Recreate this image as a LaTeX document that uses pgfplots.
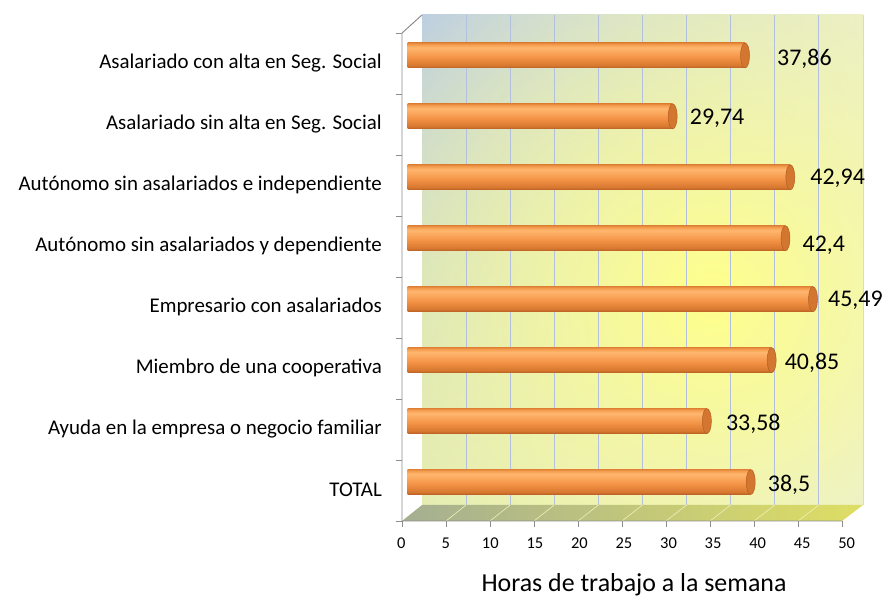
\documentclass[border=0pt]{standalone}
\usepackage{fontspec}
\setmainfont{Carlito}
\usepackage{pgfplots}
\usepackage{pgfplotstable}
\pgfplotsset{compat=1.18}
\usetikzlibrary{fadings,shadings}

\definecolor{wallUL}{RGB}{180,200,238}
\definecolor{wallUR}{RGB}{228,234,220}
\definecolor{wallLL}{RGB}{222,232,190}
\definecolor{wallLR}{RGB}{225,232,242}
\definecolor{wallY}{RGB}{255,255,140}
\definecolor{floorL}{RGB}{165,175,145}
\definecolor{floorR}{RGB}{222,222,100}
\definecolor{gridc}{RGB}{178,192,222}
\definecolor{axisc}{RGB}{140,140,140}
\definecolor{capc}{RGB}{210,118,48}
\definecolor{capedge}{RGB}{178,95,35}

% cylinder look for one bar (bottom at 25bp, top at 75bp)
\pgfdeclareverticalshading{cyl}{100bp}{
  color(0bp)=(rgb,255:red,185;green,95;blue,35);
  color(25bp)=(rgb,255:red,185;green,95;blue,35);
  color(30bp)=(rgb,255:red,215;green,120;blue,48);
  color(45bp)=(rgb,255:red,242;green,145;blue,68);
  color(60bp)=(rgb,255:red,252;green,172;blue,98);
  color(66bp)=(rgb,255:red,255;green,182;blue,110);
  color(72bp)=(rgb,255:red,245;green,158;blue,80);
  color(75bp)=(rgb,255:red,228;green,136;blue,60);
  color(100bp)=(rgb,255:red,228;green,136;blue,60)}

\tikzfading[name=yfade, inner color=transparent!0, outer color=transparent!100]

% k = category index (0 = TOTAL), dx/dy = label offset in bp
\pgfplotstableread{
k val dx dy lab
0 38.5  17 -3   38,5
1 33.58 19 -3   33,58
2 40.85 13 -3   40,85
3 45.49 15 -1   45,49
4 42.4  17 -7   42,4
5 42.94 20 -1   42,94
6 29.74 17 -2   29,74
7 37.86 32 -3.5 37,86
}\horas

\begin{document}
\begin{tikzpicture}
\begin{scope}[x=1bp,y=1bp]
% back wall
\begin{scope}
\clip (422,92) rectangle (863,582);
\shade[upper left=wallUL, upper right=wallUR, lower left=wallLL, lower right=wallLR]
  (422,92) rectangle (863,582);
\fill[wallY, path fading=yfade] (710,300) ellipse [x radius=460, y radius=460];
\end{scope}
\foreach \i in {1,...,9}
  \draw[gridc, line width=0.9] ({422+44.1*\i},92) -- ({422+44.1*\i},582);
\draw[gridc!60, line width=0.9] (863,92) -- (863,582);

% floor
\shade[left color=floorL, right color=floorR] (402,76) -- (842,76) -- (863,92) -- (422,92) -- cycle;
\foreach \i in {1,...,9}
  \draw[white!55!floorR, line width=0.6] ({402+44*\i},76) -- ({422+44.1*\i},92);

% axis lines and ticks
\draw[axisc, line width=1] (422,582) -- (402,564) -- (402,76) -- (842,76);
\foreach \i in {0,...,10}
  \draw[axisc, line width=0.8] ({402+44*\i},76) -- ({402+44*\i},70);
\foreach \i in {0,...,8}
  \draw[axisc, line width=0.8] (396,{76+61*\i}) -- (402,{76+61*\i});
\end{scope}

\begin{axis}[
  at={(407.7bp,84.5bp)}, anchor=south west,
  scale only axis, width=445.5bp, height=487.5bp,
  xmin=0, xmax=50, ymin=-0.5, ymax=7.5,
  clip=false,
  axis line style={draw=none},
  major tick length=0pt,
  xtick={0,5,...,50},
  ytick={0,...,7},
  yticklabels={TOTAL,
    Ayuda en la empresa o negocio familiar,
    Miembro de una cooperativa,
    Empresario con asalariados,
    Autónomo sin asalariados y dependiente,
    Autónomo sin asalariados e independiente,
    Asalariado sin alta en Seg. Social,
    Asalariado con alta en Seg. Social},
  /pgf/number format/assume math mode=true,
  xticklabel style={font=\fontsize{16.5}{18}\selectfont, anchor=center, xshift=-6.5bp, yshift=-30.5bp},
  yticklabel style={font=\fontsize{21}{24}\selectfont, anchor=east, inner sep=0pt, xshift=-25.7bp, yshift=-7.5bp},
  xlabel={Horas de trabajo a la semana},
  xlabel style={font=\fontsize{26}{30}\selectfont, at={(axis description cs:0.508,-0.163)}, anchor=base},
]
% one plot per bar, so that each bar gets its own shading
\pgfplotsinvokeforeach{0,...,7}{
\addplot[xbar, bar width=25bp, bar shift=0pt, draw=none, shading=cyl,
  restrict y to domain=#1:#1, forget plot]
  table[x=val, y=k] {\horas};
}
\addplot[only marks, mark=*, mark size=12.5bp,
  mark options={xscale=0.36, fill=capc, draw=capedge, line width=0.5}]
  table[x=val, y=k] {\horas};
\addplot[draw=none, mark=none, nodes near coords, point meta=explicit symbolic,
  visualization depends on={\thisrow{dx} \as \dx},
  visualization depends on={\thisrow{dy} \as \dy},
  every node near coord/.append style={font=\fontsize{24}{28}\selectfont, text=black,
    anchor=west, inner sep=0pt, xshift=\dx*1bp, yshift=\dy*1bp}]
  table[x=val, y=k, meta=lab] {\horas};
\end{axis}

\pgfresetboundingbox
\useasboundingbox (0,0) rectangle (887bp,597bp);
\end{tikzpicture}
\end{document}
